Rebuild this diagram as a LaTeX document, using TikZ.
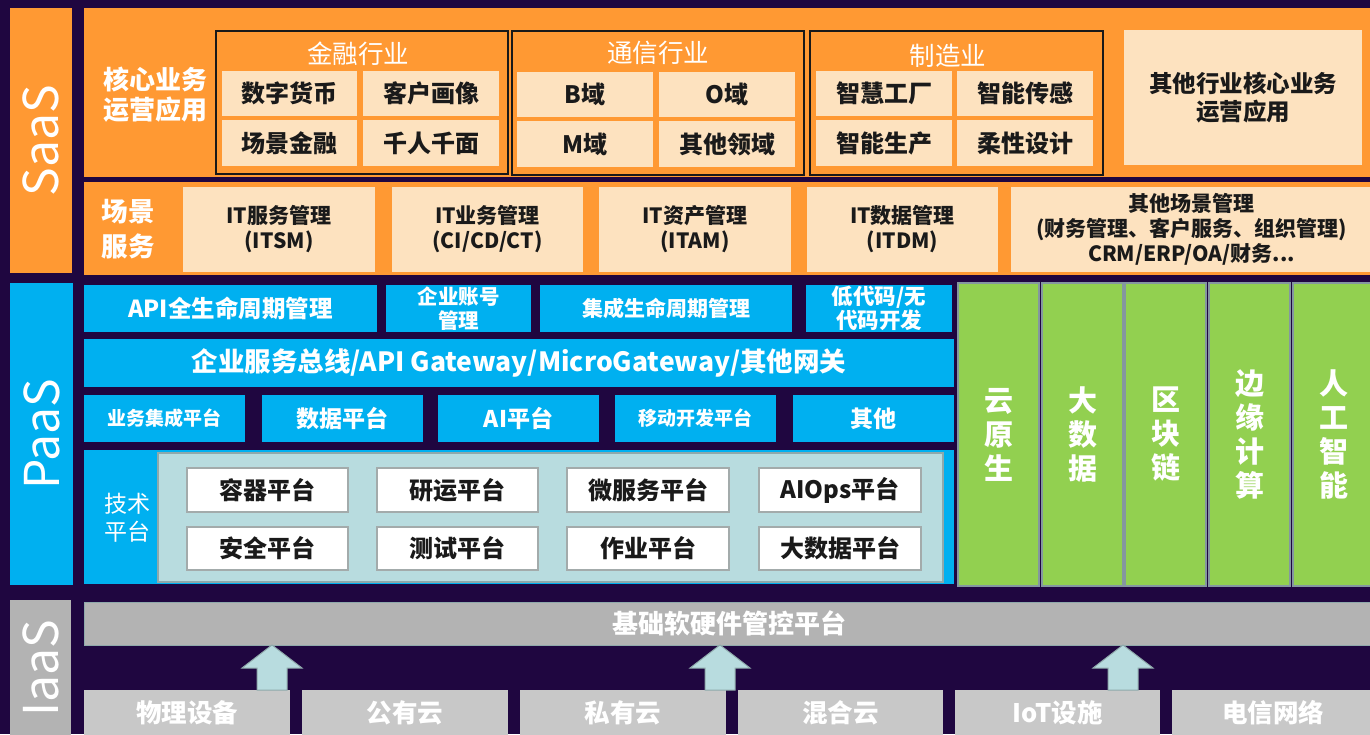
\documentclass[tikz,border=0pt]{standalone}
\usepackage{fontspec}
\setmainfont{Noto Sans CJK SC}
\definecolor{bg}{HTML}{1F0640}
\definecolor{org}{HTML}{FF9933}
\definecolor{cream}{HTML}{FDE2BF}
\definecolor{pblue}{HTML}{00B0F0}
\definecolor{grn}{HTML}{92D050}
\definecolor{grnedge}{HTML}{8497A0}
\definecolor{tealf}{HTML}{B8DCDF}
\definecolor{tealedge}{HTML}{8FA9AB}
\definecolor{wedge}{HTML}{A3ABAB}
\definecolor{gbar}{HTML}{B3B3B3}
\definecolor{gbox}{HTML}{C8C8C8}
\definecolor{ink}{HTML}{1A1A1A}
\newcommand\fz[2]{\fontsize{#1}{#2}\selectfont}
\newcommand\bx[7]{\node[#1, minimum width={(#5)-(#3)}, minimum height={(#6)-(#4)}] (#2) at ({((#3)+(#5))/2},{((#4)+(#6))/2}) {#7};}
\tikzset{
  every node/.style={inner sep=0pt, outer sep=0pt},
  lbl/.style={text=white, font=\fz{48}{52}},
  panel/.style={fill=org},
  grp/.style={draw=black!90, line width=2pt, fill=org},
  gtitle/.style={text=white, font=\fz{25.5}{28}},
  cbox/.style={fill=cream, text=ink, font=\bfseries\fz{24}{28}, align=center},
  sbox/.style={fill=cream, text=ink, font=\bfseries\fz{21}{25}, align=center},
  bbox/.style={fill=pblue, text=white, font=\bfseries\fz{23}{24}, align=center},
  wbox/.style={fill=white, draw=wedge, line width=1.8pt, text=ink, font=\bfseries\fz{24}{26}},
  gcol/.style={fill=grn, draw=grnedge, line width=2pt, text=white, font=\bfseries\fz{29}{34}, align=center},
  ibox/.style={fill=gbox, text=white, font=\bfseries\fz{25.5}{28}},
  arr/.style={fill=tealf, draw=tealedge, line width=1pt}
}
\begin{document}
\begin{tikzpicture}[x=1pt,y=-1pt]
\useasboundingbox (0,0) rectangle (1370,734);
\fill[bg] (0,0) rectangle (1370,734);
% layer labels
\node[lbl, fill=org, rotate=90, minimum width=265, minimum height=62] (saas) at (41,140.5) {SaaS};
\node[lbl, fill=pblue, rotate=90, minimum width=302, minimum height=63] (paas) at (41.5,434) {PaaS};
\node[lbl, fill=gbar, rotate=90, minimum width=136, minimum height=61] (iaas) at (40.5,668) {IaaS};
% SaaS core
\bx{panel}{core}{84}{8}{1372}{177}{}
\node[text=white, font=\bfseries\fz{26}{30}, align=center] (corelbl) at (155,95) {核心业务\\运营应用};
\bx{grp}{gfin}{216}{31}{508}{174}{}
\bx{grp}{gtel}{512}{31}{804}{175}{}
\bx{grp}{gmfg}{810}{31}{1103}{175}{}
\node[gtitle] (tfin) at (358,54) {金融行业};
\node[gtitle] (ttel) at (658,53) {通信行业};
\node[gtitle] (tmfg) at (948,56) {制造业};
\bx{cbox}{f1}{222}{71}{357}{116}{数字货币}
\bx{cbox}{f2}{363}{71}{499}{116}{客户画像}
\bx{cbox}{f3}{222}{120}{357}{166}{场景金融}
\bx{cbox}{f4}{363}{120}{499}{166}{千人千面}
\bx{cbox}{t1}{517}{72}{653}{117}{B域}
\bx{cbox}{t2}{659}{72}{795}{117}{O域}
\bx{cbox}{t3}{517}{121}{653}{167}{M域}
\bx{cbox}{t4}{659}{121}{795}{167}{其他领域}
\bx{cbox}{m1}{816}{71}{952}{116}{智慧工厂}
\bx{cbox}{m2}{957}{71}{1093}{116}{智能传感}
\bx{cbox}{m3}{816}{120}{952}{166}{智能生产}
\bx{cbox}{m4}{957}{120}{1093}{166}{柔性设计}
\bx{cbox, font=\bfseries\fz{23.5}{28}}{oth}{1124}{30}{1362}{165}{其他行业核心业务\\运营应用}
% SaaS scenario
\bx{panel}{scen}{84}{182}{1372}{275}{}
\node[text=white, font=\bfseries\fz{26.5}{35}, align=center] (scenlbl) at (128,229) {场景\\服务};
\bx{sbox}{s1}{183}{187}{375}{272}{IT服务管理\\(ITSM)}
\bx{sbox}{s2}{392}{187}{583}{272}{IT业务管理\\(CI/CD/CT)}
\bx{sbox}{s3}{599}{187}{791}{272}{IT资产管理\\(ITAM)}
\bx{sbox}{s4}{807}{187}{998}{272}{IT数据管理\\(ITDM)}
\bx{sbox}{s5}{1011}{187}{1372}{272}{其他场景管理\\(财务管理、客户服务、组织管理)\\CRM/ERP/OA/财务...}
% PaaS
\bx{bbox, font=\bfseries\fz{23.5}{24}}{p1}{84}{285}{377}{332}{API全生命周期管理}
\bx{bbox, font=\bfseries\fz{20.5}{24}}{p2}{386}{285}{531}{332}{企业账号\\管理}
\bx{bbox, font=\bfseries\fz{21}{24}}{p3}{540}{285}{792}{332}{集成生命周期管理}
\bx{bbox, font=\bfseries\fz{21.5}{24}}{p4}{806}{285}{952}{332}{低代码/无\\代码开发}
\bx{bbox, font=\bfseries\fz{26.5}{28}}{gw}{84}{339}{954}{387}{企业服务总线/API Gateway/MicroGateway/其他网关}
\bx{bbox, font=\bfseries\fz{19}{22}}{q1}{84}{395}{245}{442}{业务集成平台}
\bx{bbox}{q2}{262}{395}{423}{442}{数据平台}
\bx{bbox}{q3}{438}{395}{599}{442}{AI平台}
\bx{bbox, font=\bfseries\fz{19}{22}}{q4}{615}{395}{776}{442}{移动开发平台}
\bx{bbox}{q5}{793}{395}{954}{442}{其他}
\bx{bbox}{tc}{84}{450}{954}{584}{}
\node[text=white, font=\fz{23}{28}, align=center] (techlbl) at (127,518) {技术\\平台};
\bx{fill=tealf, draw=tealedge, line width=2pt}{tp}{158}{453}{943}{582}{}
\bx{wbox}{w1}{187}{468}{348}{512}{容器平台}
\bx{wbox}{w2}{377}{468}{538}{512}{研运平台}
\bx{wbox}{w3}{567}{468}{729}{512}{微服务平台}
\bx{wbox}{w4}{759}{468}{921}{512}{AIOps平台}
\bx{wbox}{w5}{187}{527}{348}{570}{安全平台}
\bx{wbox}{w6}{377}{527}{538}{570}{测试平台}
\bx{wbox}{w7}{567}{527}{729}{570}{作业平台}
\bx{wbox}{w8}{759}{527}{921}{570}{大数据平台}
% green columns
\bx{gcol}{g1}{958}{283}{1039}{586}{云\\原\\生}
\bx{gcol}{g2}{1042}{283}{1123}{586}{大\\数\\据}
\bx{gcol}{g3}{1125}{283}{1206}{586}{区\\块\\链}
\bx{gcol}{g4}{1209}{283}{1290}{586}{边\\缘\\计\\算}
\bx{gcol}{g5}{1293}{283}{1374}{586}{人\\工\\智\\能}
% IaaS
\bx{fill=gbar, draw=tealedge, line width=1pt, text=white, font=\bfseries\fz{26}{28}}{ib}{84}{602}{1374}{645}{基础软硬件管控平台}
\bx{ibox}{d1}{84}{690}{290}{736}{物理设备}
\bx{ibox}{d2}{302}{690}{508}{736}{公有云}
\bx{ibox}{d3}{520}{690}{726}{736}{私有云}
\bx{ibox}{d4}{738}{690}{943}{736}{混合云}
\bx{ibox}{d5}{955}{690}{1160}{736}{IoT设施}
\bx{ibox}{d6}{1172}{690}{1374}{736}{电信网络}
\coordinate (a1) at (272,690);
\coordinate (a2) at (720,690);
\coordinate (a3) at (1123,690);
\foreach \a in {a1,a2,a3}{
  \draw[arr] (\a) ++(-15,0) -- ++(0,-22) -- ++(-15,0) -- ++(30,-23) -- ++(30,23) -- ++(-15,0) -- ++(0,22) -- cycle;
}
\end{tikzpicture}
\end{document}
